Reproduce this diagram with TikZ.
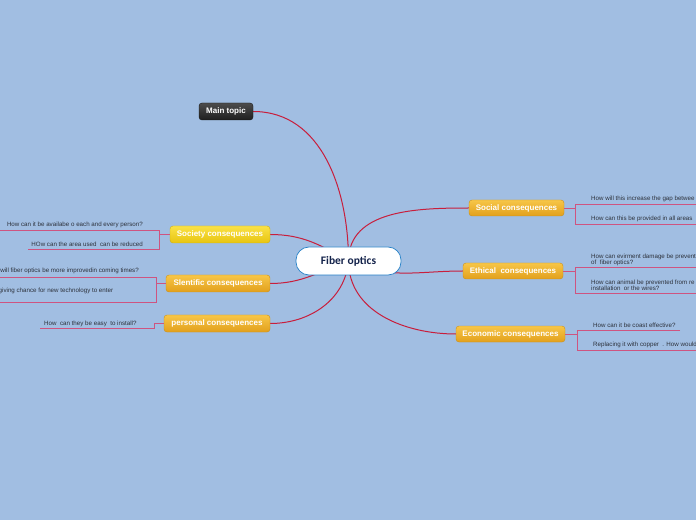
\documentclass[tikz,border=0pt]{standalone}
\usepackage{fontspec}
\setmainfont{Liberation Sans}
\newfontfamily\titlefont{Carlito}
\usetikzlibrary{calc}
\definecolor{bgblue}{RGB}{161,190,226}
\definecolor{linkred}{RGB}{200,30,60}
\definecolor{subpink}{RGB}{206,84,128}
\definecolor{qgray}{RGB}{45,50,60}
\definecolor{orangetop}{RGB}{247,198,72}
\definecolor{orangebot}{RGB}{226,160,28}
\definecolor{yellowtop}{RGB}{250,226,70}
\definecolor{yellowbot}{RGB}{232,196,16}
\definecolor{fiberblue}{RGB}{40,130,200}
\definecolor{navy}{RGB}{20,35,75}
\pgfdeclarelayer{back}
\pgfdeclarelayer{lines}
\pgfsetlayers{back,lines,main}
\begin{document}
\begin{tikzpicture}[x=1pt,y=1pt,
  topic/.style={rounded corners=3pt, minimum height=17pt, inner sep=0pt,
    text=white, font=\bfseries\fontsize{8}{9}\selectfont},
  orangebox/.style={topic, top color=orangetop, bottom color=orangebot, draw=orangebot!90!black, line width=0.4pt},
  yellowbox/.style={topic, top color=yellowtop, bottom color=yellowbot, draw=yellowbot!90!black, line width=0.4pt},
  darkbox/.style={topic, top color=black!70, bottom color=black!88, draw=black!90},
  central/.style={rounded corners=13pt, fill=white, draw=fiberblue, line width=0.7pt,
    minimum width=105pt, minimum height=28pt, text=navy, font=\titlefont\bfseries\fontsize{11.5}{13}\selectfont},
  link/.style={draw=linkred, line width=1pt},
  sub/.style={draw=subpink, line width=0.9pt},
  qtext/.style={font=\fontsize{6.2}{6.6}\selectfont, text=qgray, inner sep=0pt, align=left}
]
\useasboundingbox (0,0) rectangle (696,520);
\begin{pgfonlayer}{back}
\fill[bgblue] (0,0) rectangle (696,520);
\end{pgfonlayer}
\clip (0,0) rectangle (696,520);

% central topic and main branches
\node[central] (fiber) at (348.5,259) {Fiber optics};
\node[darkbox, minimum width=54pt] (main) at (226,408.5) {Main topic};
\node[orangebox, minimum width=95pt, minimum height=16pt] (social) at (516.5,312) {Social consequences};
\node[orangebox, minimum width=100pt, minimum height=16pt] (ethical) at (513,249) {Ethical\ \ consequences};
\node[orangebox, minimum width=109pt, minimum height=16pt] (economic) at (510.5,186) {Economic consequences};
\node[yellowbox, minimum width=100pt] (society) at (220,285.5) {Society consequences};
\node[orangebox, minimum width=104pt] (slentific) at (218,236.5) {Slentific consequences};
\node[orangebox, minimum width=106pt] (personal) at (217,196.5) {personal consequences};

\begin{pgfonlayer}{lines}
\draw[link] (fiber.center) to[out=90,in=0] (main.east);
\draw[link] (fiber.center) to[out=90,in=180] (social.west);
\draw[link] (fiber.center) to[out=-25,in=180] (ethical.west);
\draw[link] (fiber.center) to[out=-90,in=180] (economic.west);
\draw[link] (fiber.center) to[out=150,in=0] (society.east);
\draw[link] (fiber.center) to[out=200,in=0] (slentific.east);
\draw[link] (fiber.center) to[out=-95,in=0] (personal.east);
\end{pgfonlayer}

% right side questions
\draw[sub] (social.east) -- (575,312);
\draw[sub] (696,316) -- (575,316) -- (575,296) -- (696,296);
\node[qtext, anchor=base west] (q1) at (591,319.5) {How will this increase the gap betwee};
\node[qtext, anchor=base west] (q2) at (591,299.5) {How can this be provided in all areas};

\draw[sub] (ethical.east) -- (575,249);
\draw[sub] (696,253) -- (575,253) -- (575,227) -- (696,227);
\node[qtext, anchor=north west] (q3) at (591,266.5) {How can evirment damage be prevent\\of\ \ fiber optics?};
\node[qtext, anchor=north west] (q4) at (591,240.5) {How can animal be prevented from re\\installation\ \ or the wires?};

\draw[sub] (economic.east) -- (577,186);
\draw[sub] (680,190) -- (577,190) -- (577,170) -- (696,170);
\node[qtext, anchor=base west] (q5) at (593,192.5) {How can it be coast effective?};
\node[qtext, anchor=base west] (q6) at (593,173.5) {Replacing it with copper\ \ . How would};

% left side questions
\draw[sub] (society.west) -- (159,285.5);
\draw[sub] (0,290) -- (159,290) -- (159,271) -- (28,271);
\node[qtext, anchor=base east] (q7) at (143,293.5) {How can it be availabe o each and every person?};
\node[qtext, anchor=base east] (q8) at (143,273.5) {HOw can the area used\ \ can be reduced};

\draw[sub] (slentific.west) -- (156,236.5);
\draw[sub] (0,243) -- (156,243) -- (156,218) -- (0,218);
\node[qtext, anchor=base east] (q9) at (139,247.5) {will fiber optics be more improvedin coming times?};
\node[qtext, anchor=base west] (q10) at (-1.5,227.5) {giving chance for new technology to enter};

\draw[sub] (personal.west) -- (154,196.5) -- (154,192) -- (40,192);
\node[qtext, anchor=base west] (q11) at (44,194) {How\ \ can they be easy\ \ to install?};
\end{tikzpicture}
\end{document}
